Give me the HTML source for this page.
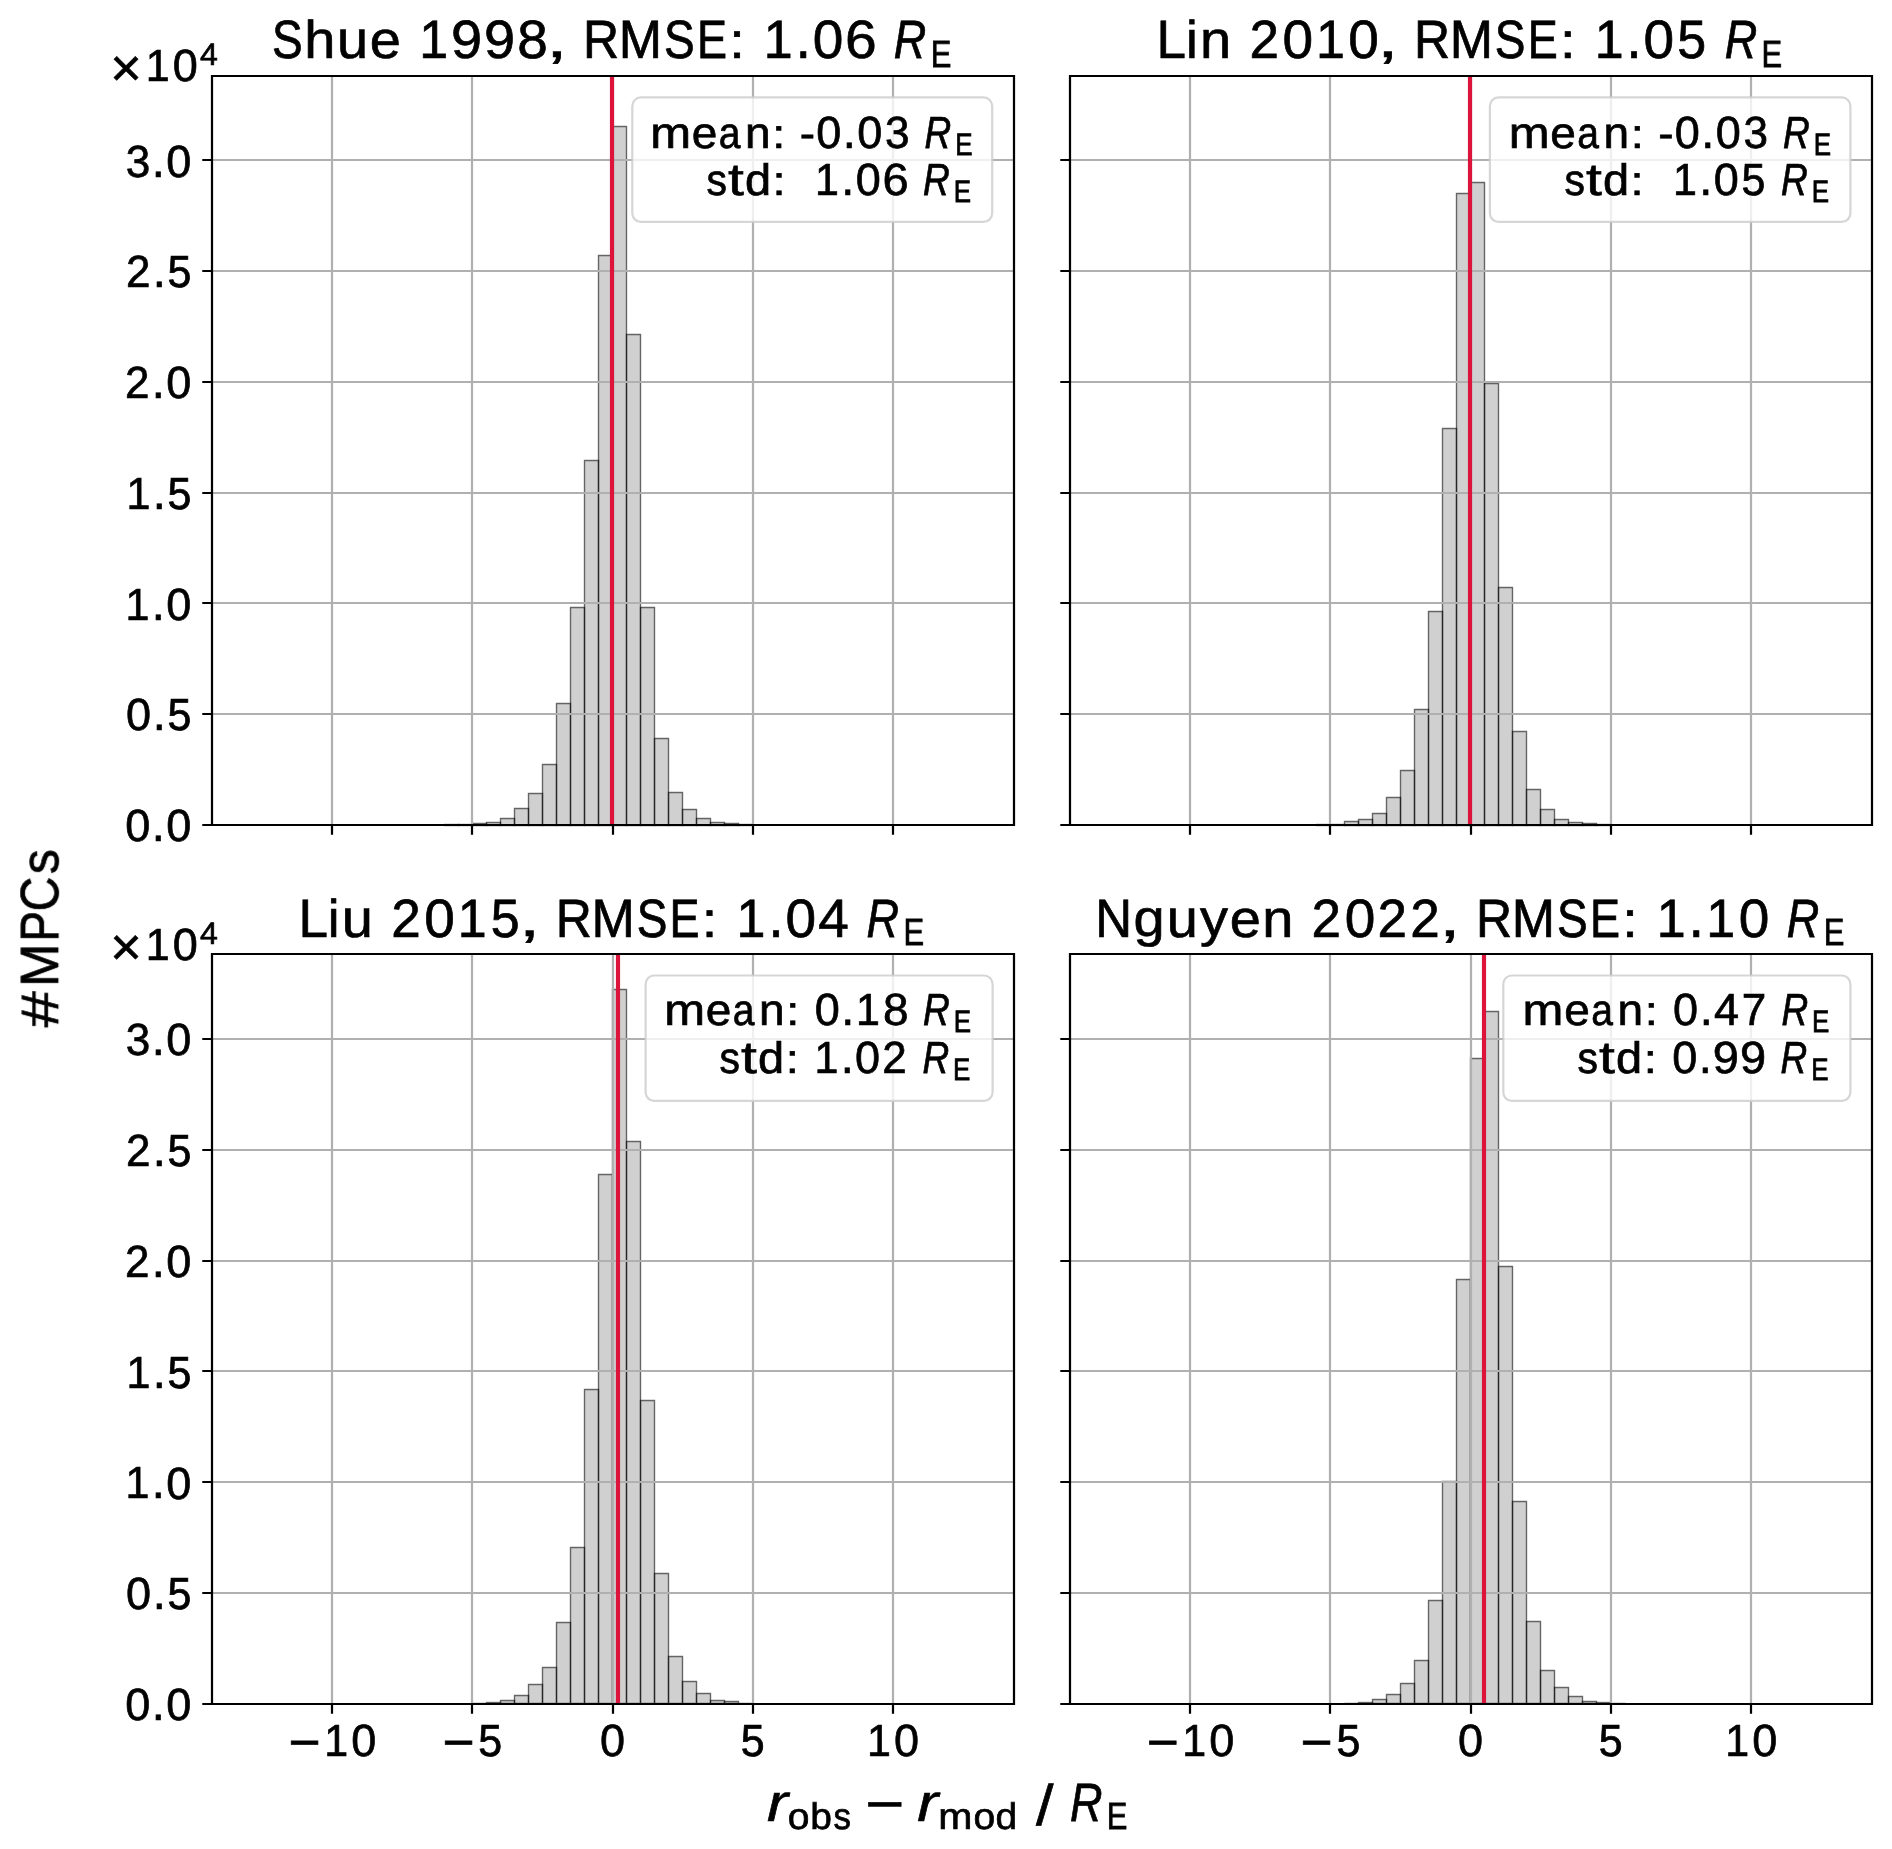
<!DOCTYPE html><html><head><meta charset="utf-8"><style>
html,body{margin:0;padding:0;background:#fff;width:1892px;height:1849px;overflow:hidden}
svg{display:block}
.g{font-family:"Liberation Sans",sans-serif;font-size:100px;fill:#000;stroke:#000}
.gi{font-family:"Liberation Sans",sans-serif;font-style:italic;font-size:100px;fill:#000;stroke:#000}
text{text-rendering:geometricPrecision}
</style></head><body>
<svg width="1892" height="1849" viewBox="0 0 1892 1849">
<rect x="0" y="0" width="1892" height="1849" fill="#fff"/>
<path d="M444.5 825.5H458.5V824.5H444.5ZM458.5 825.5H472.5V824.5H458.5ZM472.5 825.5H486.5V823.5H472.5ZM486.5 825.5H500.5V822.5H486.5ZM500.5 825.5H514.5V818.5H500.5ZM514.5 825.5H528.5V808.5H514.5ZM528.5 825.5H542.5V793.5H528.5ZM542.5 825.5H556.5V764.5H542.5ZM556.5 825.5H570.5V703.5H556.5ZM570.5 825.5H584.5V607.5H570.5ZM584.5 825.5H598.5V460.5H584.5ZM598.5 825.5H612.5V255.5H598.5ZM612.5 825.5H626.5V126.5H612.5ZM626.5 825.5H640.5V334.5H626.5ZM640.5 825.5H654.5V607.5H640.5ZM654.5 825.5H668.5V738.5H654.5ZM668.5 825.5H682.5V792.5H668.5ZM682.5 825.5H696.5V809.5H682.5ZM696.5 825.5H710.5V818.5H696.5ZM710.5 825.5H724.5V822.5H710.5ZM724.5 825.5H738.5V823.5H724.5ZM738.5 825.5H752.5V824.5H738.5Z" fill="#d0d0d0" stroke="none"/>
<g fill="none" stroke="#000" stroke-opacity="0.57" stroke-width="1.39"><path d="M444.5 825.5H458.5V824.5H444.5Z"/><path d="M458.5 825.5H472.5V824.5H458.5Z"/><path d="M472.5 825.5H486.5V823.5H472.5Z"/><path d="M486.5 825.5H500.5V822.5H486.5Z"/><path d="M500.5 825.5H514.5V818.5H500.5Z"/><path d="M514.5 825.5H528.5V808.5H514.5Z"/><path d="M528.5 825.5H542.5V793.5H528.5Z"/><path d="M542.5 825.5H556.5V764.5H542.5Z"/><path d="M556.5 825.5H570.5V703.5H556.5Z"/><path d="M570.5 825.5H584.5V607.5H570.5Z"/><path d="M584.5 825.5H598.5V460.5H584.5Z"/><path d="M598.5 825.5H612.5V255.5H598.5Z"/><path d="M612.5 825.5H626.5V126.5H612.5Z"/><path d="M626.5 825.5H640.5V334.5H626.5Z"/><path d="M640.5 825.5H654.5V607.5H640.5Z"/><path d="M654.5 825.5H668.5V738.5H654.5Z"/><path d="M668.5 825.5H682.5V792.5H668.5Z"/><path d="M682.5 825.5H696.5V809.5H682.5Z"/><path d="M696.5 825.5H710.5V818.5H696.5Z"/><path d="M710.5 825.5H724.5V822.5H710.5Z"/><path d="M724.5 825.5H738.5V823.5H724.5Z"/><path d="M738.5 825.5H752.5V824.5H738.5Z"/></g>
<path d="M332 75.5V824.8M472 75.5V824.8M613 75.5V824.8M753 75.5V824.8M893 75.5V824.8M211.6 825H1013.8M211.6 714H1013.8M211.6 603H1013.8M211.6 493H1013.8M211.6 382H1013.8M211.6 271H1013.8M211.6 160H1013.8" stroke="#b0b0b0" stroke-width="2.22" fill="none"/>
<path d="M612 75.5V824.8" stroke="#dc143c" stroke-width="4.17"/>
<path d="M212 76V825H1014V76Z" stroke="#000" stroke-width="2.22" fill="none" stroke-linecap="square"/>
<path d="M332 825V834.72M472 825V834.72M613 825V834.72M753 825V834.72M893 825V834.72M212 825H202.28M212 714H202.28M212 603H202.28M212 493H202.28M212 382H202.28M212 271H202.28M212 160H202.28" stroke="#000" stroke-width="2.22" fill="none"/>
<rect x="632.3" y="97.4" width="359.9" height="124.5" rx="8.6" ry="8.6" fill="#fff" fill-opacity="0.8" stroke="#cccccc" stroke-opacity="0.8" stroke-width="2.22"/>
<path d="M1316.5 825.5H1330.5V824.5H1316.5ZM1330.5 825.5H1344.5V824.5H1330.5ZM1344.5 825.5H1358.5V821.5H1344.5ZM1358.5 825.5H1372.5V819.5H1358.5ZM1372.5 825.5H1386.5V813.5H1372.5ZM1386.5 825.5H1400.5V797.5H1386.5ZM1400.5 825.5H1414.5V770.5H1400.5ZM1414.5 825.5H1428.5V709.5H1414.5ZM1428.5 825.5H1442.5V611.5H1428.5ZM1442.5 825.5H1456.5V428.5H1442.5ZM1456.5 825.5H1470.5V193.5H1456.5ZM1470.5 825.5H1484.5V182.5H1470.5ZM1484.5 825.5H1498.5V383.5H1484.5ZM1498.5 825.5H1512.5V587.5H1498.5ZM1512.5 825.5H1526.5V731.5H1512.5ZM1526.5 825.5H1540.5V789.5H1526.5ZM1540.5 825.5H1554.5V809.5H1540.5ZM1554.5 825.5H1568.5V819.5H1554.5ZM1568.5 825.5H1582.5V822.5H1568.5ZM1582.5 825.5H1596.5V823.5H1582.5ZM1596.5 825.5H1610.5V824.5H1596.5Z" fill="#d0d0d0" stroke="none"/>
<g fill="none" stroke="#000" stroke-opacity="0.57" stroke-width="1.39"><path d="M1316.5 825.5H1330.5V824.5H1316.5Z"/><path d="M1330.5 825.5H1344.5V824.5H1330.5Z"/><path d="M1344.5 825.5H1358.5V821.5H1344.5Z"/><path d="M1358.5 825.5H1372.5V819.5H1358.5Z"/><path d="M1372.5 825.5H1386.5V813.5H1372.5Z"/><path d="M1386.5 825.5H1400.5V797.5H1386.5Z"/><path d="M1400.5 825.5H1414.5V770.5H1400.5Z"/><path d="M1414.5 825.5H1428.5V709.5H1414.5Z"/><path d="M1428.5 825.5H1442.5V611.5H1428.5Z"/><path d="M1442.5 825.5H1456.5V428.5H1442.5Z"/><path d="M1456.5 825.5H1470.5V193.5H1456.5Z"/><path d="M1470.5 825.5H1484.5V182.5H1470.5Z"/><path d="M1484.5 825.5H1498.5V383.5H1484.5Z"/><path d="M1498.5 825.5H1512.5V587.5H1498.5Z"/><path d="M1512.5 825.5H1526.5V731.5H1512.5Z"/><path d="M1526.5 825.5H1540.5V789.5H1526.5Z"/><path d="M1540.5 825.5H1554.5V809.5H1540.5Z"/><path d="M1554.5 825.5H1568.5V819.5H1554.5Z"/><path d="M1568.5 825.5H1582.5V822.5H1568.5Z"/><path d="M1582.5 825.5H1596.5V823.5H1582.5Z"/><path d="M1596.5 825.5H1610.5V824.5H1596.5Z"/></g>
<path d="M1190 75.5V824.8M1330 75.5V824.8M1471 75.5V824.8M1611 75.5V824.8M1751 75.5V824.8M1069.8 825H1871.9M1069.8 714H1871.9M1069.8 603H1871.9M1069.8 493H1871.9M1069.8 382H1871.9M1069.8 271H1871.9M1069.8 160H1871.9" stroke="#b0b0b0" stroke-width="2.22" fill="none"/>
<path d="M1470 75.5V824.8" stroke="#dc143c" stroke-width="4.17"/>
<path d="M1070 76V825H1872V76Z" stroke="#000" stroke-width="2.22" fill="none" stroke-linecap="square"/>
<path d="M1190 825V834.72M1330 825V834.72M1471 825V834.72M1611 825V834.72M1751 825V834.72M1070 825H1060.28M1070 714H1060.28M1070 603H1060.28M1070 493H1060.28M1070 382H1060.28M1070 271H1060.28M1070 160H1060.28" stroke="#000" stroke-width="2.22" fill="none"/>
<rect x="1489.9" y="97.4" width="360.5" height="124.5" rx="8.6" ry="8.6" fill="#fff" fill-opacity="0.8" stroke="#cccccc" stroke-opacity="0.8" stroke-width="2.22"/>
<path d="M472.5 1703.5H486.5V1703.5H472.5ZM486.5 1703.5H500.5V1702.5H486.5ZM500.5 1703.5H514.5V1700.5H500.5ZM514.5 1703.5H528.5V1695.5H514.5ZM528.5 1703.5H542.5V1684.5H528.5ZM542.5 1703.5H556.5V1667.5H542.5ZM556.5 1703.5H570.5V1622.5H556.5ZM570.5 1703.5H584.5V1547.5H570.5ZM584.5 1703.5H598.5V1389.5H584.5ZM598.5 1703.5H612.5V1174.5H598.5ZM612.5 1703.5H626.5V989.5H612.5ZM626.5 1703.5H640.5V1141.5H626.5ZM640.5 1703.5H654.5V1400.5H640.5ZM654.5 1703.5H668.5V1573.5H654.5ZM668.5 1703.5H682.5V1656.5H668.5ZM682.5 1703.5H696.5V1681.5H682.5ZM696.5 1703.5H710.5V1693.5H696.5ZM710.5 1703.5H724.5V1700.5H710.5ZM724.5 1703.5H738.5V1701.5H724.5ZM738.5 1703.5H752.5V1703.5H738.5Z" fill="#d0d0d0" stroke="none"/>
<g fill="none" stroke="#000" stroke-opacity="0.57" stroke-width="1.39"><path d="M472.5 1703.5H486.5V1703.5H472.5Z"/><path d="M486.5 1703.5H500.5V1702.5H486.5Z"/><path d="M500.5 1703.5H514.5V1700.5H500.5Z"/><path d="M514.5 1703.5H528.5V1695.5H514.5Z"/><path d="M528.5 1703.5H542.5V1684.5H528.5Z"/><path d="M542.5 1703.5H556.5V1667.5H542.5Z"/><path d="M556.5 1703.5H570.5V1622.5H556.5Z"/><path d="M570.5 1703.5H584.5V1547.5H570.5Z"/><path d="M584.5 1703.5H598.5V1389.5H584.5Z"/><path d="M598.5 1703.5H612.5V1174.5H598.5Z"/><path d="M612.5 1703.5H626.5V989.5H612.5Z"/><path d="M626.5 1703.5H640.5V1141.5H626.5Z"/><path d="M640.5 1703.5H654.5V1400.5H640.5Z"/><path d="M654.5 1703.5H668.5V1573.5H654.5Z"/><path d="M668.5 1703.5H682.5V1656.5H668.5Z"/><path d="M682.5 1703.5H696.5V1681.5H682.5Z"/><path d="M696.5 1703.5H710.5V1693.5H696.5Z"/><path d="M710.5 1703.5H724.5V1700.5H710.5Z"/><path d="M724.5 1703.5H738.5V1701.5H724.5Z"/><path d="M738.5 1703.5H752.5V1703.5H738.5Z"/></g>
<path d="M332 953.9V1703.6M472 953.9V1703.6M613 953.9V1703.6M753 953.9V1703.6M893 953.9V1703.6M211.6 1704H1013.8M211.6 1593H1013.8M211.6 1482H1013.8M211.6 1371H1013.8M211.6 1261H1013.8M211.6 1150H1013.8M211.6 1039H1013.8" stroke="#b0b0b0" stroke-width="2.22" fill="none"/>
<path d="M618 953.9V1703.6" stroke="#dc143c" stroke-width="4.17"/>
<path d="M212 954V1704H1014V954Z" stroke="#000" stroke-width="2.22" fill="none" stroke-linecap="square"/>
<path d="M332 1704V1713.72M472 1704V1713.72M613 1704V1713.72M753 1704V1713.72M893 1704V1713.72M212 1704H202.28M212 1593H202.28M212 1482H202.28M212 1371H202.28M212 1261H202.28M212 1150H202.28M212 1039H202.28" stroke="#000" stroke-width="2.22" fill="none"/>
<rect x="645.6" y="975.5" width="347" height="125.4" rx="8.6" ry="8.6" fill="#fff" fill-opacity="0.8" stroke="#cccccc" stroke-opacity="0.8" stroke-width="2.22"/>
<path d="M1344.5 1703.5H1358.5V1703.5H1344.5ZM1358.5 1703.5H1372.5V1702.5H1358.5ZM1372.5 1703.5H1386.5V1699.5H1372.5ZM1386.5 1703.5H1400.5V1694.5H1386.5ZM1400.5 1703.5H1414.5V1683.5H1400.5ZM1414.5 1703.5H1428.5V1660.5H1414.5ZM1428.5 1703.5H1442.5V1600.5H1428.5ZM1442.5 1703.5H1456.5V1481.5H1442.5ZM1456.5 1703.5H1470.5V1279.5H1456.5ZM1470.5 1703.5H1484.5V1058.5H1470.5ZM1484.5 1703.5H1498.5V1011.5H1484.5ZM1498.5 1703.5H1512.5V1266.5H1498.5ZM1512.5 1703.5H1526.5V1501.5H1512.5ZM1526.5 1703.5H1540.5V1621.5H1526.5ZM1540.5 1703.5H1554.5V1670.5H1540.5ZM1554.5 1703.5H1568.5V1687.5H1554.5ZM1568.5 1703.5H1582.5V1696.5H1568.5ZM1582.5 1703.5H1596.5V1701.5H1582.5ZM1596.5 1703.5H1610.5V1702.5H1596.5ZM1610.5 1703.5H1625.5V1703.5H1610.5Z" fill="#d0d0d0" stroke="none"/>
<g fill="none" stroke="#000" stroke-opacity="0.57" stroke-width="1.39"><path d="M1344.5 1703.5H1358.5V1703.5H1344.5Z"/><path d="M1358.5 1703.5H1372.5V1702.5H1358.5Z"/><path d="M1372.5 1703.5H1386.5V1699.5H1372.5Z"/><path d="M1386.5 1703.5H1400.5V1694.5H1386.5Z"/><path d="M1400.5 1703.5H1414.5V1683.5H1400.5Z"/><path d="M1414.5 1703.5H1428.5V1660.5H1414.5Z"/><path d="M1428.5 1703.5H1442.5V1600.5H1428.5Z"/><path d="M1442.5 1703.5H1456.5V1481.5H1442.5Z"/><path d="M1456.5 1703.5H1470.5V1279.5H1456.5Z"/><path d="M1470.5 1703.5H1484.5V1058.5H1470.5Z"/><path d="M1484.5 1703.5H1498.5V1011.5H1484.5Z"/><path d="M1498.5 1703.5H1512.5V1266.5H1498.5Z"/><path d="M1512.5 1703.5H1526.5V1501.5H1512.5Z"/><path d="M1526.5 1703.5H1540.5V1621.5H1526.5Z"/><path d="M1540.5 1703.5H1554.5V1670.5H1540.5Z"/><path d="M1554.5 1703.5H1568.5V1687.5H1554.5Z"/><path d="M1568.5 1703.5H1582.5V1696.5H1568.5Z"/><path d="M1582.5 1703.5H1596.5V1701.5H1582.5Z"/><path d="M1596.5 1703.5H1610.5V1702.5H1596.5Z"/><path d="M1610.5 1703.5H1625.5V1703.5H1610.5Z"/></g>
<path d="M1190 953.9V1703.6M1330 953.9V1703.6M1471 953.9V1703.6M1611 953.9V1703.6M1751 953.9V1703.6M1069.8 1704H1871.9M1069.8 1593H1871.9M1069.8 1482H1871.9M1069.8 1371H1871.9M1069.8 1261H1871.9M1069.8 1150H1871.9M1069.8 1039H1871.9" stroke="#b0b0b0" stroke-width="2.22" fill="none"/>
<path d="M1484 953.9V1703.6" stroke="#dc143c" stroke-width="4.17"/>
<path d="M1070 954V1704H1872V954Z" stroke="#000" stroke-width="2.22" fill="none" stroke-linecap="square"/>
<path d="M1190 1704V1713.72M1330 1704V1713.72M1471 1704V1713.72M1611 1704V1713.72M1751 1704V1713.72M1070 1704H1060.28M1070 1593H1060.28M1070 1482H1060.28M1070 1371H1060.28M1070 1261H1060.28M1070 1150H1060.28M1070 1039H1060.28" stroke="#000" stroke-width="2.22" fill="none"/>
<rect x="1503.3" y="975.5" width="347.1" height="125.4" rx="8.6" ry="8.6" fill="#fff" fill-opacity="0.8" stroke="#cccccc" stroke-opacity="0.8" stroke-width="2.22"/>
<g style="will-change:transform" opacity="0.999">
<text class="g" transform="matrix(0.46 0 0 0.54 272.02 58.19)" stroke-width="1.4">S</text><text class="g" transform="matrix(0.56 0 0 0.53 304.35 58)" stroke-width="1.28">h</text><text class="g" transform="matrix(0.56 0 0 0.54 337.12 58.19)" stroke-width="1.27">u</text><text class="g" transform="matrix(0.56 0 0 0.53 369.63 58.2)" stroke-width="1.28">e</text><text class="g" transform="matrix(0.52 0 0 0.54 419.15 58)" stroke-width="1.32">1</text><text class="g" transform="matrix(0.56 0 0 0.54 450.98 58.19)" stroke-width="1.27">9</text><text class="g" transform="matrix(0.56 0 0 0.54 483.9 58.19)" stroke-width="1.27">9</text><text class="g" transform="matrix(0.55 0 0 0.54 517.33 58.19)" stroke-width="1.28">8</text><text class="g" transform="matrix(0.76 0 0 0.52 546.35 57.26)" stroke-width="1.12">,</text><text class="g" transform="matrix(0.5 0 0 0.54 583.05 58)" stroke-width="1.36">R</text><text class="g" transform="matrix(0.52 0 0 0.54 618.84 58)" stroke-width="1.33">M</text><text class="g" transform="matrix(0.46 0 0 0.54 663.96 58.19)" stroke-width="1.4">S</text><text class="g" transform="matrix(0.45 0 0 0.54 696.89 58)" stroke-width="1.42">E</text><text class="g" transform="matrix(0.56 0 0 0.5 729.14 58)" stroke-width="1.33">:</text><text class="g" transform="matrix(0.52 0 0 0.54 763.79 58)" stroke-width="1.32">1</text><text class="g" transform="matrix(0.56 0 0 0.59 795.42 58)" stroke-width="1.22">.</text><text class="g" transform="matrix(0.55 0 0 0.54 812.73 58.19)" stroke-width="1.29">0</text><text class="g" transform="matrix(0.57 0 0 0.54 845.12 58.19)" stroke-width="1.26">6</text><text class="gi" transform="matrix(0.45 0 0 0.54 893.76 58)" stroke-width="1.42">R</text><text class="g" transform="matrix(0.31 0 0 0.38 930.68 66.53)" stroke-width="2.03">E</text>
<text class="g" transform="matrix(0.53 0 0 0.54 1156.56 58)" stroke-width="1.31">L</text><text class="g" transform="matrix(0.53 0 0 0.53 1186.02 58)" stroke-width="1.32">i</text><text class="g" transform="matrix(0.56 0 0 0.53 1200.06 58)" stroke-width="1.29">n</text><text class="g" transform="matrix(0.53 0 0 0.54 1249.45 58)" stroke-width="1.31">2</text><text class="g" transform="matrix(0.55 0 0 0.54 1282.51 58.19)" stroke-width="1.29">0</text><text class="g" transform="matrix(0.52 0 0 0.54 1315.88 58)" stroke-width="1.32">1</text><text class="g" transform="matrix(0.55 0 0 0.54 1348.36 58.19)" stroke-width="1.29">0</text><text class="g" transform="matrix(0.76 0 0 0.52 1377.22 57.26)" stroke-width="1.12">,</text><text class="g" transform="matrix(0.5 0 0 0.54 1413.93 58)" stroke-width="1.36">R</text><text class="g" transform="matrix(0.52 0 0 0.54 1449.71 58)" stroke-width="1.33">M</text><text class="g" transform="matrix(0.46 0 0 0.54 1494.83 58.19)" stroke-width="1.4">S</text><text class="g" transform="matrix(0.45 0 0 0.54 1527.76 58)" stroke-width="1.42">E</text><text class="g" transform="matrix(0.56 0 0 0.5 1560.01 58)" stroke-width="1.33">:</text><text class="g" transform="matrix(0.52 0 0 0.54 1594.66 58)" stroke-width="1.32">1</text><text class="g" transform="matrix(0.56 0 0 0.59 1626.29 58)" stroke-width="1.22">.</text><text class="g" transform="matrix(0.55 0 0 0.54 1643.6 58.19)" stroke-width="1.29">0</text><text class="g" transform="matrix(0.52 0 0 0.54 1677.18 58.19)" stroke-width="1.33">5</text><text class="gi" transform="matrix(0.45 0 0 0.54 1724.63 58)" stroke-width="1.42">R</text><text class="g" transform="matrix(0.31 0 0 0.38 1761.56 66.53)" stroke-width="2.03">E</text>
<text class="g" transform="matrix(0.53 0 0 0.54 298.41 936.6)" stroke-width="1.31">L</text><text class="g" transform="matrix(0.53 0 0 0.53 327.87 936.6)" stroke-width="1.32">i</text><text class="g" transform="matrix(0.56 0 0 0.54 341.68 936.79)" stroke-width="1.27">u</text><text class="g" transform="matrix(0.53 0 0 0.54 391.3 936.6)" stroke-width="1.31">2</text><text class="g" transform="matrix(0.55 0 0 0.54 424.36 936.79)" stroke-width="1.29">0</text><text class="g" transform="matrix(0.52 0 0 0.54 457.73 936.6)" stroke-width="1.32">1</text><text class="g" transform="matrix(0.52 0 0 0.54 490.87 936.79)" stroke-width="1.33">5</text><text class="g" transform="matrix(0.76 0 0 0.52 519.07 935.86)" stroke-width="1.12">,</text><text class="g" transform="matrix(0.5 0 0 0.54 555.78 936.6)" stroke-width="1.36">R</text><text class="g" transform="matrix(0.52 0 0 0.54 591.56 936.6)" stroke-width="1.33">M</text><text class="g" transform="matrix(0.46 0 0 0.54 636.68 936.79)" stroke-width="1.4">S</text><text class="g" transform="matrix(0.45 0 0 0.54 669.61 936.6)" stroke-width="1.42">E</text><text class="g" transform="matrix(0.56 0 0 0.5 701.86 936.6)" stroke-width="1.33">:</text><text class="g" transform="matrix(0.52 0 0 0.54 736.51 936.6)" stroke-width="1.32">1</text><text class="g" transform="matrix(0.56 0 0 0.59 768.14 936.6)" stroke-width="1.22">.</text><text class="g" transform="matrix(0.55 0 0 0.54 785.45 936.79)" stroke-width="1.29">0</text><text class="g" transform="matrix(0.55 0 0 0.54 818.37 936.6)" stroke-width="1.29">4</text><text class="gi" transform="matrix(0.45 0 0 0.54 866.48 936.6)" stroke-width="1.42">R</text><text class="g" transform="matrix(0.31 0 0 0.38 903.41 945.13)" stroke-width="2.03">E</text>
<text class="g" transform="matrix(0.51 0 0 0.54 1095.24 936.6)" stroke-width="1.33">N</text><text class="g" transform="matrix(0.56 0 0 0.52 1133.56 936.29)" stroke-width="1.29">g</text><text class="g" transform="matrix(0.56 0 0 0.54 1166.68 936.79)" stroke-width="1.27">u</text><text class="g" transform="matrix(0.56 0 0 0.52 1200.12 936.35)" stroke-width="1.3">y</text><text class="g" transform="matrix(0.56 0 0 0.53 1229.82 936.8)" stroke-width="1.28">e</text><text class="g" transform="matrix(0.56 0 0 0.53 1262.17 936.6)" stroke-width="1.29">n</text><text class="g" transform="matrix(0.53 0 0 0.54 1311.57 936.6)" stroke-width="1.31">2</text><text class="g" transform="matrix(0.55 0 0 0.54 1344.63 936.79)" stroke-width="1.29">0</text><text class="g" transform="matrix(0.53 0 0 0.54 1377.42 936.6)" stroke-width="1.31">2</text><text class="g" transform="matrix(0.53 0 0 0.54 1410.34 936.6)" stroke-width="1.31">2</text><text class="g" transform="matrix(0.76 0 0 0.52 1439.33 935.86)" stroke-width="1.12">,</text><text class="g" transform="matrix(0.5 0 0 0.54 1476.04 936.6)" stroke-width="1.36">R</text><text class="g" transform="matrix(0.52 0 0 0.54 1511.83 936.6)" stroke-width="1.33">M</text><text class="g" transform="matrix(0.46 0 0 0.54 1556.95 936.79)" stroke-width="1.4">S</text><text class="g" transform="matrix(0.45 0 0 0.54 1589.88 936.6)" stroke-width="1.42">E</text><text class="g" transform="matrix(0.56 0 0 0.5 1622.13 936.6)" stroke-width="1.33">:</text><text class="g" transform="matrix(0.52 0 0 0.54 1656.78 936.6)" stroke-width="1.32">1</text><text class="g" transform="matrix(0.56 0 0 0.59 1688.41 936.6)" stroke-width="1.22">.</text><text class="g" transform="matrix(0.52 0 0 0.54 1706.15 936.6)" stroke-width="1.32">1</text><text class="g" transform="matrix(0.55 0 0 0.54 1738.64 936.79)" stroke-width="1.29">0</text><text class="gi" transform="matrix(0.45 0 0 0.54 1786.74 936.6)" stroke-width="1.42">R</text><text class="g" transform="matrix(0.31 0 0 0.38 1823.67 945.13)" stroke-width="2.03">E</text>
<text class="g" transform="matrix(0.49 0 0 0.44 650.15 147.6)" stroke-width="1.51">m</text><text class="g" transform="matrix(0.46 0 0 0.44 691.79 147.77)" stroke-width="1.55">e</text><text class="g" transform="matrix(0.39 0 0 0.44 718.78 147.77)" stroke-width="1.69">a</text><text class="g" transform="matrix(0.46 0 0 0.44 745.02 147.6)" stroke-width="1.55">n</text><text class="g" transform="matrix(0.47 0 0 0.41 772.24 147.6)" stroke-width="1.6">:</text><text class="g" transform="matrix(0.46 0 0 0.43 799.64 147.53)" stroke-width="1.56">-</text><text class="g" transform="matrix(0.45 0 0 0.45 816.18 147.76)" stroke-width="1.55">0</text><text class="g" transform="matrix(0.47 0 0 0.49 842.83 147.6)" stroke-width="1.47">.</text><text class="g" transform="matrix(0.45 0 0 0.45 857.21 147.76)" stroke-width="1.55">0</text><text class="g" transform="matrix(0.44 0 0 0.45 885.12 147.76)" stroke-width="1.58">3</text><text class="gi" transform="matrix(0.37 0 0 0.45 924.54 147.6)" stroke-width="1.71">R</text><text class="g" transform="matrix(0.26 0 0 0.31 955.22 154.65)" stroke-width="2.45">E</text>
<text class="g" transform="matrix(0.41 0 0 0.44 706.42 195.26)" stroke-width="1.64">s</text><text class="g" transform="matrix(0.57 0 0 0.45 727.92 194.75)" stroke-width="1.37">t</text><text class="g" transform="matrix(0.47 0 0 0.44 744.91 195.26)" stroke-width="1.54">d</text><text class="g" transform="matrix(0.47 0 0 0.41 772.59 195.1)" stroke-width="1.6">:</text><text class="g" transform="matrix(0.43 0 0 0.45 815.05 195.1)" stroke-width="1.59">1</text><text class="g" transform="matrix(0.47 0 0 0.49 841.33 195.1)" stroke-width="1.47">.</text><text class="g" transform="matrix(0.45 0 0 0.45 855.71 195.26)" stroke-width="1.55">0</text><text class="g" transform="matrix(0.47 0 0 0.45 882.62 195.26)" stroke-width="1.52">6</text><text class="gi" transform="matrix(0.37 0 0 0.45 923.04 195.1)" stroke-width="1.71">R</text><text class="g" transform="matrix(0.26 0 0 0.31 953.72 202.15)" stroke-width="2.45">E</text>
<text class="g" transform="matrix(0.49 0 0 0.44 1508.65 147.6)" stroke-width="1.51">m</text><text class="g" transform="matrix(0.46 0 0 0.44 1550.29 147.77)" stroke-width="1.55">e</text><text class="g" transform="matrix(0.39 0 0 0.44 1577.28 147.77)" stroke-width="1.69">a</text><text class="g" transform="matrix(0.46 0 0 0.44 1603.52 147.6)" stroke-width="1.55">n</text><text class="g" transform="matrix(0.47 0 0 0.41 1630.74 147.6)" stroke-width="1.6">:</text><text class="g" transform="matrix(0.46 0 0 0.43 1658.14 147.53)" stroke-width="1.56">-</text><text class="g" transform="matrix(0.45 0 0 0.45 1674.68 147.76)" stroke-width="1.55">0</text><text class="g" transform="matrix(0.47 0 0 0.49 1701.33 147.6)" stroke-width="1.47">.</text><text class="g" transform="matrix(0.45 0 0 0.45 1715.71 147.76)" stroke-width="1.55">0</text><text class="g" transform="matrix(0.44 0 0 0.45 1743.62 147.76)" stroke-width="1.58">3</text><text class="gi" transform="matrix(0.37 0 0 0.45 1783.04 147.6)" stroke-width="1.71">R</text><text class="g" transform="matrix(0.26 0 0 0.31 1813.72 154.65)" stroke-width="2.45">E</text>
<text class="g" transform="matrix(0.41 0 0 0.44 1564.42 195.26)" stroke-width="1.64">s</text><text class="g" transform="matrix(0.57 0 0 0.45 1585.92 194.75)" stroke-width="1.37">t</text><text class="g" transform="matrix(0.47 0 0 0.44 1602.91 195.26)" stroke-width="1.54">d</text><text class="g" transform="matrix(0.47 0 0 0.41 1630.59 195.1)" stroke-width="1.6">:</text><text class="g" transform="matrix(0.43 0 0 0.45 1673.05 195.1)" stroke-width="1.59">1</text><text class="g" transform="matrix(0.47 0 0 0.49 1699.33 195.1)" stroke-width="1.47">.</text><text class="g" transform="matrix(0.45 0 0 0.45 1713.71 195.26)" stroke-width="1.55">0</text><text class="g" transform="matrix(0.43 0 0 0.45 1741.61 195.26)" stroke-width="1.6">5</text><text class="gi" transform="matrix(0.37 0 0 0.45 1781.04 195.1)" stroke-width="1.71">R</text><text class="g" transform="matrix(0.26 0 0 0.31 1811.72 202.15)" stroke-width="2.45">E</text>
<text class="g" transform="matrix(0.49 0 0 0.44 664.17 1024.7)" stroke-width="1.51">m</text><text class="g" transform="matrix(0.46 0 0 0.44 705.8 1024.87)" stroke-width="1.55">e</text><text class="g" transform="matrix(0.39 0 0 0.44 732.8 1024.87)" stroke-width="1.69">a</text><text class="g" transform="matrix(0.46 0 0 0.44 759.04 1024.7)" stroke-width="1.55">n</text><text class="g" transform="matrix(0.47 0 0 0.41 786.25 1024.7)" stroke-width="1.6">:</text><text class="g" transform="matrix(0.45 0 0 0.45 814.68 1024.86)" stroke-width="1.55">0</text><text class="g" transform="matrix(0.47 0 0 0.49 841.33 1024.7)" stroke-width="1.47">.</text><text class="g" transform="matrix(0.43 0 0 0.45 856.07 1024.7)" stroke-width="1.59">1</text><text class="g" transform="matrix(0.46 0 0 0.45 882.93 1024.86)" stroke-width="1.54">8</text><text class="gi" transform="matrix(0.37 0 0 0.45 923.04 1024.7)" stroke-width="1.71">R</text><text class="g" transform="matrix(0.26 0 0 0.31 953.72 1031.75)" stroke-width="2.45">E</text>
<text class="g" transform="matrix(0.41 0 0 0.44 719.49 1073.26)" stroke-width="1.64">s</text><text class="g" transform="matrix(0.57 0 0 0.45 740.99 1072.75)" stroke-width="1.37">t</text><text class="g" transform="matrix(0.47 0 0 0.44 757.98 1073.26)" stroke-width="1.54">d</text><text class="g" transform="matrix(0.47 0 0 0.41 785.65 1073.1)" stroke-width="1.6">:</text><text class="g" transform="matrix(0.43 0 0 0.45 814.45 1073.1)" stroke-width="1.59">1</text><text class="g" transform="matrix(0.47 0 0 0.49 840.73 1073.1)" stroke-width="1.47">.</text><text class="g" transform="matrix(0.45 0 0 0.45 855.11 1073.26)" stroke-width="1.55">0</text><text class="g" transform="matrix(0.44 0 0 0.45 882.36 1073.1)" stroke-width="1.58">2</text><text class="gi" transform="matrix(0.37 0 0 0.45 922.44 1073.1)" stroke-width="1.71">R</text><text class="g" transform="matrix(0.26 0 0 0.31 953.12 1080.15)" stroke-width="2.45">E</text>
<text class="g" transform="matrix(0.49 0 0 0.44 1522.57 1024.7)" stroke-width="1.51">m</text><text class="g" transform="matrix(0.46 0 0 0.44 1564.2 1024.87)" stroke-width="1.55">e</text><text class="g" transform="matrix(0.39 0 0 0.44 1591.2 1024.87)" stroke-width="1.69">a</text><text class="g" transform="matrix(0.46 0 0 0.44 1617.44 1024.7)" stroke-width="1.55">n</text><text class="g" transform="matrix(0.47 0 0 0.41 1644.65 1024.7)" stroke-width="1.6">:</text><text class="g" transform="matrix(0.45 0 0 0.45 1673.08 1024.86)" stroke-width="1.55">0</text><text class="g" transform="matrix(0.47 0 0 0.49 1699.73 1024.7)" stroke-width="1.47">.</text><text class="g" transform="matrix(0.45 0 0 0.45 1714.1 1024.7)" stroke-width="1.56">4</text><text class="g" transform="matrix(0.44 0 0 0.45 1741.66 1024.7)" stroke-width="1.57">7</text><text class="gi" transform="matrix(0.37 0 0 0.45 1781.44 1024.7)" stroke-width="1.71">R</text><text class="g" transform="matrix(0.26 0 0 0.31 1812.12 1031.75)" stroke-width="2.45">E</text>
<text class="g" transform="matrix(0.41 0 0 0.44 1577.59 1073.26)" stroke-width="1.64">s</text><text class="g" transform="matrix(0.57 0 0 0.45 1599.09 1072.75)" stroke-width="1.37">t</text><text class="g" transform="matrix(0.47 0 0 0.44 1616.08 1073.26)" stroke-width="1.54">d</text><text class="g" transform="matrix(0.47 0 0 0.41 1643.75 1073.1)" stroke-width="1.6">:</text><text class="g" transform="matrix(0.45 0 0 0.45 1672.18 1073.26)" stroke-width="1.55">0</text><text class="g" transform="matrix(0.47 0 0 0.49 1698.83 1073.1)" stroke-width="1.47">.</text><text class="g" transform="matrix(0.47 0 0 0.45 1712.66 1073.26)" stroke-width="1.52">9</text><text class="g" transform="matrix(0.47 0 0 0.45 1740.02 1073.26)" stroke-width="1.52">9</text><text class="gi" transform="matrix(0.37 0 0 0.45 1780.54 1073.1)" stroke-width="1.71">R</text><text class="g" transform="matrix(0.26 0 0 0.31 1811.22 1080.15)" stroke-width="2.45">E</text>
<text class="g" transform="matrix(0.54 0 0 0.53 110.33 85.77)" stroke-width="1.3">×</text><text class="g" transform="matrix(0.43 0 0 0.45 145.66 81.2)" stroke-width="1.59">1</text><text class="g" transform="matrix(0.45 0 0 0.45 172.65 81.36)" stroke-width="1.55">0</text><text class="g" transform="matrix(0.32 0 0 0.31 200.1 64.74)" stroke-width="2.22">4</text>
<text class="g" transform="matrix(0.54 0 0 0.53 110.33 964.57)" stroke-width="1.3">×</text><text class="g" transform="matrix(0.43 0 0 0.45 145.66 960)" stroke-width="1.59">1</text><text class="g" transform="matrix(0.45 0 0 0.45 172.65 960.16)" stroke-width="1.55">0</text><text class="g" transform="matrix(0.32 0 0 0.31 200.1 943.54)" stroke-width="2.22">4</text>
<text class="g" transform="matrix(0.45 0 0 0.45 125.14 841.26)" stroke-width="1.55">0</text><text class="g" transform="matrix(0.47 0 0 0.49 151.78 841.1)" stroke-width="1.47">.</text><text class="g" transform="matrix(0.45 0 0 0.45 166.16 841.26)" stroke-width="1.55">0</text>
<text class="g" transform="matrix(0.45 0 0 0.45 126.04 730.49)" stroke-width="1.55">0</text><text class="g" transform="matrix(0.47 0 0 0.49 152.68 730.33)" stroke-width="1.47">.</text><text class="g" transform="matrix(0.43 0 0 0.45 167.6 730.49)" stroke-width="1.6">5</text>
<text class="g" transform="matrix(0.43 0 0 0.45 125.5 619.57)" stroke-width="1.59">1</text><text class="g" transform="matrix(0.47 0 0 0.49 151.78 619.57)" stroke-width="1.47">.</text><text class="g" transform="matrix(0.45 0 0 0.45 166.16 619.73)" stroke-width="1.55">0</text>
<text class="g" transform="matrix(0.43 0 0 0.45 126.4 508.8)" stroke-width="1.59">1</text><text class="g" transform="matrix(0.47 0 0 0.49 152.68 508.8)" stroke-width="1.47">.</text><text class="g" transform="matrix(0.43 0 0 0.45 167.6 508.96)" stroke-width="1.6">5</text>
<text class="g" transform="matrix(0.44 0 0 0.45 125.02 398.04)" stroke-width="1.58">2</text><text class="g" transform="matrix(0.47 0 0 0.49 151.78 398.04)" stroke-width="1.47">.</text><text class="g" transform="matrix(0.45 0 0 0.45 166.16 398.2)" stroke-width="1.55">0</text>
<text class="g" transform="matrix(0.44 0 0 0.45 125.93 287.27)" stroke-width="1.58">2</text><text class="g" transform="matrix(0.47 0 0 0.49 152.68 287.27)" stroke-width="1.47">.</text><text class="g" transform="matrix(0.43 0 0 0.45 167.6 287.43)" stroke-width="1.6">5</text>
<text class="g" transform="matrix(0.44 0 0 0.45 125.69 176.67)" stroke-width="1.58">3</text><text class="g" transform="matrix(0.47 0 0 0.49 151.78 176.51)" stroke-width="1.47">.</text><text class="g" transform="matrix(0.45 0 0 0.45 166.16 176.67)" stroke-width="1.55">0</text>
<text class="g" transform="matrix(0.45 0 0 0.45 125.14 1720.06)" stroke-width="1.55">0</text><text class="g" transform="matrix(0.47 0 0 0.49 151.78 1719.9)" stroke-width="1.47">.</text><text class="g" transform="matrix(0.45 0 0 0.45 166.16 1720.06)" stroke-width="1.55">0</text>
<text class="g" transform="matrix(0.45 0 0 0.45 126.04 1609.29)" stroke-width="1.55">0</text><text class="g" transform="matrix(0.47 0 0 0.49 152.68 1609.13)" stroke-width="1.47">.</text><text class="g" transform="matrix(0.43 0 0 0.45 167.6 1609.29)" stroke-width="1.6">5</text>
<text class="g" transform="matrix(0.43 0 0 0.45 125.5 1498.37)" stroke-width="1.59">1</text><text class="g" transform="matrix(0.47 0 0 0.49 151.78 1498.37)" stroke-width="1.47">.</text><text class="g" transform="matrix(0.45 0 0 0.45 166.16 1498.53)" stroke-width="1.55">0</text>
<text class="g" transform="matrix(0.43 0 0 0.45 126.4 1387.6)" stroke-width="1.59">1</text><text class="g" transform="matrix(0.47 0 0 0.49 152.68 1387.6)" stroke-width="1.47">.</text><text class="g" transform="matrix(0.43 0 0 0.45 167.6 1387.76)" stroke-width="1.6">5</text>
<text class="g" transform="matrix(0.44 0 0 0.45 125.02 1276.84)" stroke-width="1.58">2</text><text class="g" transform="matrix(0.47 0 0 0.49 151.78 1276.84)" stroke-width="1.47">.</text><text class="g" transform="matrix(0.45 0 0 0.45 166.16 1277)" stroke-width="1.55">0</text>
<text class="g" transform="matrix(0.44 0 0 0.45 125.93 1166.07)" stroke-width="1.58">2</text><text class="g" transform="matrix(0.47 0 0 0.49 152.68 1166.07)" stroke-width="1.47">.</text><text class="g" transform="matrix(0.43 0 0 0.45 167.6 1166.23)" stroke-width="1.6">5</text>
<text class="g" transform="matrix(0.44 0 0 0.45 125.69 1055.47)" stroke-width="1.58">3</text><text class="g" transform="matrix(0.47 0 0 0.49 151.78 1055.31)" stroke-width="1.47">.</text><text class="g" transform="matrix(0.45 0 0 0.45 166.16 1055.47)" stroke-width="1.55">0</text>
<text class="g" transform="matrix(0.55 0 0 0.49 288.5 1758.71)" stroke-width="1.34">−</text><text class="g" transform="matrix(0.43 0 0 0.45 324.13 1755.6)" stroke-width="1.59">1</text><text class="g" transform="matrix(0.45 0 0 0.45 351.13 1755.76)" stroke-width="1.55">0</text>
<text class="g" transform="matrix(0.55 0 0 0.49 442.43 1758.71)" stroke-width="1.34">−</text><text class="g" transform="matrix(0.43 0 0 0.45 478.24 1755.76)" stroke-width="1.6">5</text>
<text class="g" transform="matrix(0.45 0 0 0.45 599.92 1755.76)" stroke-width="1.55">0</text>
<text class="g" transform="matrix(0.43 0 0 0.45 740.71 1755.76)" stroke-width="1.6">5</text>
<text class="g" transform="matrix(0.43 0 0 0.45 867.1 1755.6)" stroke-width="1.59">1</text><text class="g" transform="matrix(0.45 0 0 0.45 894.09 1755.76)" stroke-width="1.55">0</text>
<text class="g" transform="matrix(0.55 0 0 0.49 1146.69 1758.71)" stroke-width="1.34">−</text><text class="g" transform="matrix(0.43 0 0 0.45 1182.32 1755.6)" stroke-width="1.59">1</text><text class="g" transform="matrix(0.45 0 0 0.45 1209.31 1755.76)" stroke-width="1.55">0</text>
<text class="g" transform="matrix(0.55 0 0 0.49 1300.59 1758.71)" stroke-width="1.34">−</text><text class="g" transform="matrix(0.43 0 0 0.45 1336.4 1755.76)" stroke-width="1.6">5</text>
<text class="g" transform="matrix(0.45 0 0 0.45 1458.07 1755.76)" stroke-width="1.55">0</text>
<text class="g" transform="matrix(0.43 0 0 0.45 1598.84 1755.76)" stroke-width="1.6">5</text>
<text class="g" transform="matrix(0.43 0 0 0.45 1725.21 1755.6)" stroke-width="1.59">1</text><text class="g" transform="matrix(0.45 0 0 0.45 1752.21 1755.76)" stroke-width="1.55">0</text>
<g transform="translate(58.2 939.15) rotate(-90)">
<text class="g" transform="matrix(0.65 0 0 0.53 -88.27 -0)" stroke-width="1.19">#</text><text class="g" transform="matrix(0.52 0 0 0.54 -47.73 0)" stroke-width="1.33">M</text><text class="g" transform="matrix(0.46 0 0 0.54 -2.56 0)" stroke-width="1.41">P</text><text class="g" transform="matrix(0.48 0 0 0.54 27.82 0.19)" stroke-width="1.37">C</text><text class="g" transform="matrix(0.5 0 0 0.53 64.95 0.2)" stroke-width="1.36">s</text>
</g>
<text class="gi" transform="matrix(0.63 0 0 0.53 766.95 1820.7)" stroke-width="1.21">r</text><text class="g" transform="matrix(0.39 0 0 0.37 787.84 1829.37)" stroke-width="1.85">o</text><text class="g" transform="matrix(0.39 0 0 0.37 810.37 1829.37)" stroke-width="1.82">b</text><text class="g" transform="matrix(0.35 0 0 0.37 833.61 1829.37)" stroke-width="1.94">s</text><text class="g" transform="matrix(0.67 0 0 0.59 865.19 1824.44)" stroke-width="1.11">−</text><text class="gi" transform="matrix(0.63 0 0 0.53 917.2 1820.7)" stroke-width="1.21">r</text><text class="g" transform="matrix(0.41 0 0 0.37 938.26 1829.23)" stroke-width="1.79">m</text><text class="g" transform="matrix(0.39 0 0 0.37 973.38 1829.37)" stroke-width="1.85">o</text><text class="g" transform="matrix(0.39 0 0 0.37 995.51 1829.37)" stroke-width="1.82">d</text><text class="g" transform="matrix(0.63 0 0 0.57 1036.03 1824.85)" stroke-width="1.17">/</text><text class="gi" transform="matrix(0.45 0 0 0.54 1069.92 1820.7)" stroke-width="1.42">R</text><text class="g" transform="matrix(0.31 0 0 0.38 1106.85 1829.23)" stroke-width="2.03">E</text>
</g>
</svg></body></html>
